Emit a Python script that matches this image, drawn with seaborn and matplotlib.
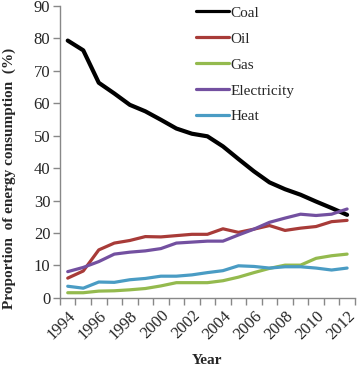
import numpy as np
import pandas as pd
import seaborn as sns
from matplotlib import pyplot as plt
from matplotlib.ticker import FixedLocator

years = list(range(1994, 2013))
coal = [79.3, 76.3, 66.3, 63.0, 59.5, 57.5, 54.9, 52.2, 50.6, 49.8,
        46.7, 42.8, 39.0, 35.6, 33.5, 31.8, 29.7, 27.7, 25.6]
oil = [6.1, 8.3, 14.8, 16.9, 17.7, 18.9, 18.8, 19.2, 19.6, 19.6,
       21.3, 20.2, 21.2, 22.3, 20.8, 21.5, 22.0, 23.5, 23.9]
gas = [1.6, 1.6, 2.1, 2.2, 2.5, 2.9, 3.7, 4.7, 4.7, 4.7,
       5.3, 6.4, 7.8, 9.1, 10.1, 10.1, 12.2, 13.0, 13.5]
electricity = [8.1, 9.4, 11.2, 13.5, 14.1, 14.5, 15.2, 16.9, 17.2, 17.5,
               17.5, 19.4, 21.2, 23.3, 24.6, 25.8, 25.4, 25.8, 27.4]
heat = [3.6, 3.0, 4.9, 4.8, 5.6, 6.0, 6.7, 6.7, 7.1, 7.8,
        8.4, 9.9, 9.7, 9.2, 9.6, 9.6, 9.2, 8.6, 9.2]
series = ['Coal', 'Oil', 'Gas', 'Electricity', 'Heat']
colors = ['#000000', '#A83B38', '#94BA4E', '#7350A0', '#4A9CC4']

df = pd.DataFrame({'Year': years, 'Coal': coal, 'Oil': oil, 'Gas': gas,
                   'Electricity': electricity, 'Heat': heat})
df = df.melt(id_vars='Year', var_name='source', value_name='share')

sns.set_style('white')
plt.rcParams['font.family'] = ['Liberation Serif', 'DejaVu Serif']

fig = plt.figure(figsize=(3.57, 3.66), dpi=100)
ax = fig.add_axes([0.168, 0.186, 0.826, 0.798])

sns.lineplot(data=df, x='Year', y='share', hue='source', hue_order=series,
             palette=colors, linewidth=2.3, ax=ax)
ax.lines[0].set_linewidth(3.0)

ax.set_xlim(1993.5, 2012.5)
ax.set_ylim(0, 90)
ax.set_yticks(range(0, 91, 10))
ax.set_xticks(years[::2])
ax.set_xticklabels([str(y) for y in years[::2]], rotation=45, ha='right',
                   rotation_mode='anchor', fontsize=12)
ax.xaxis.set_minor_locator(FixedLocator(np.arange(1993.5, 2013, 1)))
ax.tick_params(axis='x', which='major', length=0, pad=7)
ax.tick_params(axis='x', which='minor', length=5, width=1, color='#888888', direction='out', bottom=True)
ax.tick_params(axis='y', length=5, width=1, color='#888888', direction='out', left=True, labelsize=12, pad=2)

for s in ['top', 'right']:
    ax.spines[s].set_visible(False)
for s in ['left', 'bottom']:
    ax.spines[s].set_color('#888888')
    ax.spines[s].set_linewidth(1)

ax.set_xlabel('Year', fontsize=11, fontweight='bold', labelpad=8)
ax.set_ylabel('Proportion  of energy consumption  (%)', fontsize=11, fontweight='bold')
ax.yaxis.set_label_coords(-0.15, 0.41)

ax.legend(loc='upper left', frameon=False, fontsize=11, handlelength=2.2,
          handletextpad=0.05, labelspacing=0.8, borderaxespad=0,
          bbox_to_anchor=(0.44, 1.02))

fig.savefig('out.png', dpi=100)
